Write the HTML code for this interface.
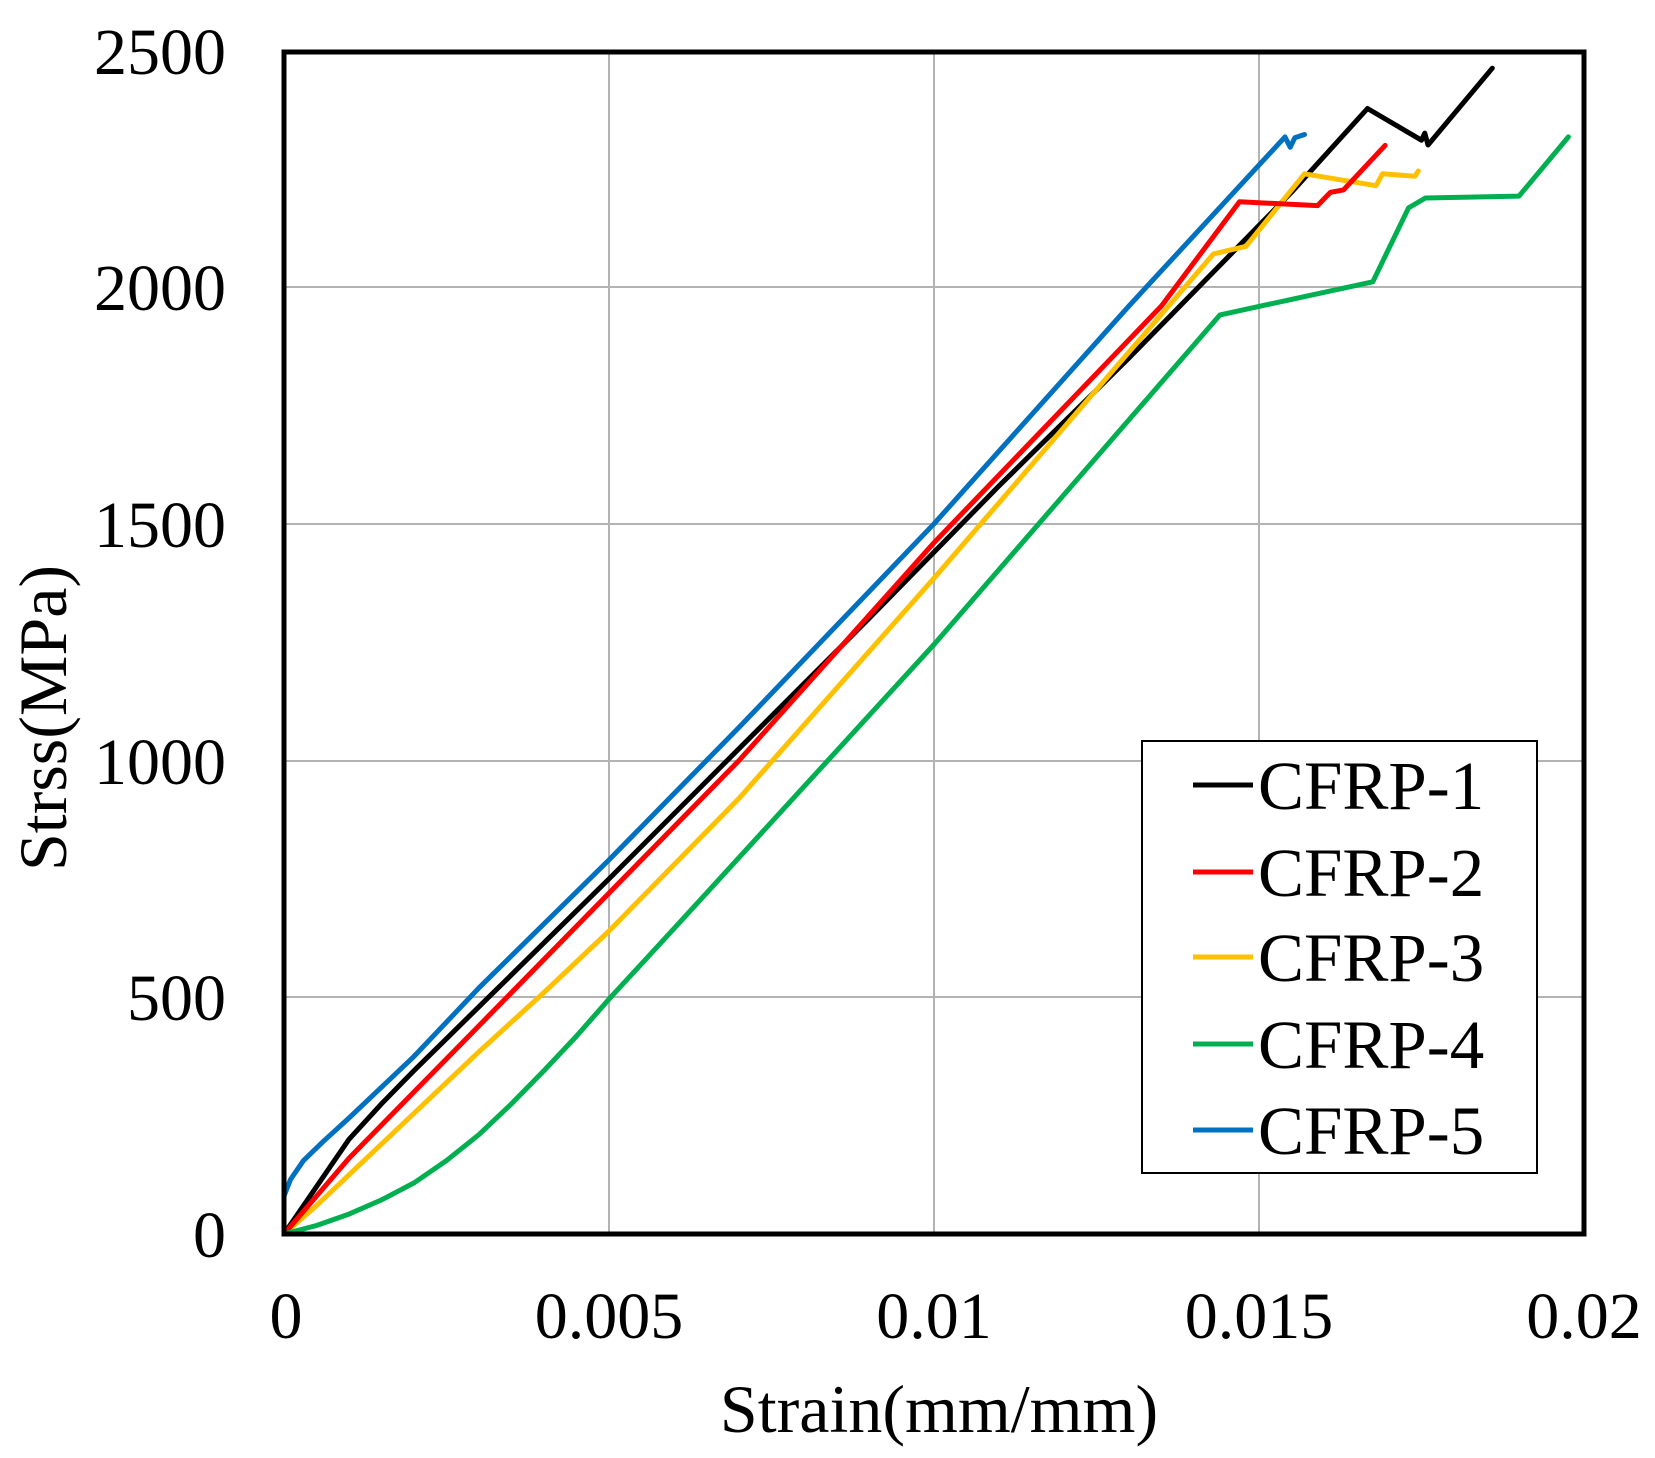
<!DOCTYPE html>
<html><head><meta charset="utf-8"><style>
html,body{margin:0;padding:0;background:#fff;}
svg{display:block;}
text{font-family:"Liberation Serif",serif;fill:#000;}
</style></head><body>
<svg id="s" width="1655" height="1458" viewBox="0 0 1655 1458" xmlns="http://www.w3.org/2000/svg">
<rect width="1655" height="1458" fill="#fff"/>
<g stroke="#b3b3b3" stroke-width="2">
<line x1="609" y1="52" x2="609" y2="1234"/>
<line x1="934" y1="52" x2="934" y2="1234"/>
<line x1="1259" y1="52" x2="1259" y2="1234"/>
<line x1="284" y1="997" x2="1584" y2="997"/>
<line x1="284" y1="761" x2="1584" y2="761"/>
<line x1="284" y1="524" x2="1584" y2="524"/>
<line x1="284" y1="287" x2="1584" y2="287"/>
</g>
<g id="series" fill="none" stroke-width="5" stroke-linejoin="round" stroke-linecap="round"></g>
<rect x="284" y="52" width="1300" height="1182" fill="none" stroke="#000" stroke-width="5"/>
<g font-size="66" text-anchor="end">
<text x="226" y="1257">0</text>
<text x="226" y="1020">500</text>
<text x="226" y="784">1000</text>
<text x="226" y="547">1500</text>
<text x="226" y="310">2000</text>
<text x="226" y="74">2500</text>
</g>
<g font-size="66" text-anchor="middle">
<text x="286" y="1338">0</text>
<text x="609" y="1338">0.005</text>
<text x="934" y="1338">0.01</text>
<text x="1259" y="1338">0.015</text>
<text x="1584" y="1338">0.02</text>
<text x="939" y="1432" font-size="68">Strain(mm/mm)</text>
<text transform="translate(66,718) rotate(-90)" font-size="68">Strss(MPa)</text>
</g>
<rect x="1142" y="741" width="395" height="432" fill="#fff" stroke="#000" stroke-width="2"/>
<g stroke-width="5">
<line x1="1193" y1="785" x2="1253" y2="785" stroke="#000"/>
<line x1="1193" y1="872" x2="1253" y2="872" stroke="#ff0000"/>
<line x1="1193" y1="957" x2="1253" y2="957" stroke="#ffc000"/>
<line x1="1193" y1="1044" x2="1253" y2="1044" stroke="#00b050"/>
<line x1="1193" y1="1130" x2="1253" y2="1130" stroke="#0070c0"/>
</g>
<g font-size="69">
<text x="1258" y="809">CFRP-1</text>
<text x="1258" y="896">CFRP-2</text>
<text x="1258" y="981">CFRP-3</text>
<text x="1258" y="1068">CFRP-4</text>
<text x="1258" y="1154">CFRP-5</text>
</g>
</svg>
<script>
var S={
"#000000":[[0,0],[0.0005,100],[0.001,200],[0.0015,275],[0.002,345],[0.003,480],[0.005,750],[0.007,1025],[0.009,1300],[0.011,1580],[0.013,1850],[0.0145,2060],[0.0155,2200],[0.01667,2377],[0.0175,2310],[0.01755,2325],[0.0176,2300],[0.01859,2462]],
"#ffc000":[[0,0],[0.0005,60],[0.001,125],[0.002,255],[0.003,385],[0.004,510],[0.005,640],[0.007,920],[0.01,1385],[0.0143,2070],[0.0148,2086],[0.0157,2239],[0.0168,2214],[0.0169,2239],[0.0174,2234],[0.01745,2245]],
"#ff0000":[[0,0],[0.001,160],[0.003,440],[0.005,720],[0.007,1000],[0.01,1460],[0.0135,1960],[0.0147,2180],[0.0159,2172],[0.0161,2200],[0.0163,2205],[0.01694,2299]],
"#00b050":[[0,0],[0.0005,18],[0.001,42],[0.0015,72],[0.002,108],[0.0025,155],[0.003,210],[0.0035,275],[0.004,345],[0.0045,418],[0.005,496],[0.006,645],[0.007,795],[0.01,1245],[0.0144,1941],[0.01675,2011],[0.0173,2167],[0.01756,2188],[0.019,2192],[0.01976,2317]],
"#0070c0":[[0,50],[0,80],[0.0001,115],[0.0003,155],[0.0006,195],[0.001,245],[0.0015,310],[0.002,375],[0.003,520],[0.005,790],[0.007,1070],[0.01,1500],[0.013,1960],[0.0154,2317],[0.01548,2295],[0.01555,2315],[0.0157,2322]]
};
var g=document.getElementById("series"),ns="http://www.w3.org/2000/svg";
for(var c in S){var p=document.createElementNS(ns,"polyline");
p.setAttribute("points",S[c].map(function(d){return (284+d[0]*65000).toFixed(1)+","+(1234-d[1]*0.4735).toFixed(1)}).join(" "));
p.setAttribute("stroke",c);g.appendChild(p);}
</script>
</body></html>
